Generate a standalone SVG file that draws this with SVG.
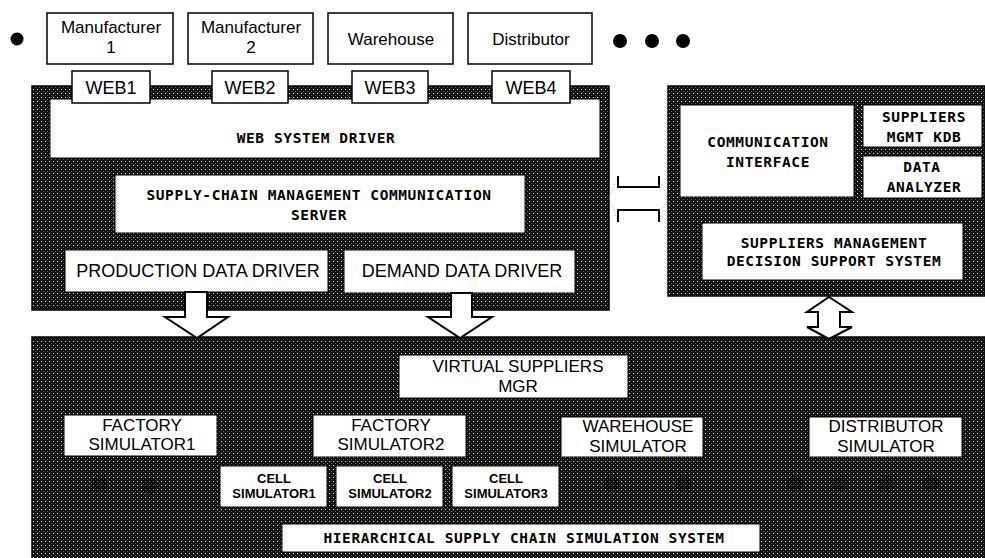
<svg xmlns="http://www.w3.org/2000/svg" width="985" height="558" viewBox="0 0 985 558">
  <defs>
    <!-- printed halftone screen used for the dark system panels -->
    <pattern id="halftone" width="4" height="4" patternUnits="userSpaceOnUse">
      <rect width="4" height="4" fill="#101010"/>
      <rect x="1" y="1" width="1" height="1" fill="#f0f0f0"/>
      <rect x="3" y="3" width="1" height="1" fill="#606060"/>
    </pattern>
    <style>
      .panel { fill: url(#halftone); stroke: #000; stroke-width: 1.5; }
      .box { fill: #fff; stroke: #000; stroke-width: 1.5; }
      .inner { fill: #fff; stroke: #000; stroke-width: 1; }
      .sans { font-family: "Liberation Sans", Arial, sans-serif; fill: #000; text-anchor: middle; }
      .t17 { font-size: 17px; }
      .t18 { font-size: 18px; }
      .cell { font-family: "Liberation Sans", Arial, sans-serif; font-weight: bold; font-size: 13px; fill: #000; text-anchor: middle; }
      .mono { font-family: "DejaVu Sans Mono", "Liberation Mono", monospace; font-weight: bold; font-size: 14.5px; letter-spacing: 0.6px; fill: #000; text-anchor: middle; }
      .dot { fill: #000; }
      .hidden-dot { fill: #000; opacity: 0.35; }
      .hollow { fill: #fff; stroke: #000; stroke-width: 2; stroke-linejoin: miter; }
      .bracket { fill: none; stroke: #000; stroke-width: 2; }
      .faint { fill: none; stroke: #b0b0b0; stroke-width: 1; stroke-dasharray: 1 2; }
    </style>
  </defs>

  <rect width="985" height="558" fill="#fff"/>

  <!-- ellipsis markers around the partner row -->
  <g id="partner-ellipsis">
    <circle class="dot" cx="17" cy="39" r="6.5"/>
    <circle class="dot" cx="620" cy="41" r="7"/>
    <circle class="dot" cx="652" cy="41" r="7"/>
    <circle class="dot" cx="683" cy="41" r="7"/>
  </g>

  <!-- supply-chain partners -->
  <g id="manufacturer-1">
    <rect class="box" x="47" y="13" width="126" height="51"/>
    <text class="sans t17" x="111" y="33">Manufacturer</text>
    <text class="sans t17" x="111" y="53">1</text>
  </g>
  <g id="manufacturer-2">
    <rect class="box" x="188" y="13" width="125" height="51"/>
    <text class="sans t17" x="251" y="33">Manufacturer</text>
    <text class="sans t17" x="251" y="53">2</text>
  </g>
  <g id="warehouse">
    <rect class="box" x="328" y="13" width="125" height="51"/>
    <text class="sans t17" x="391" y="45">Warehouse</text>
  </g>
  <g id="distributor">
    <rect class="box" x="468" y="13" width="124" height="51"/>
    <text class="sans t17" x="531" y="45">Distributor</text>
  </g>

  <!-- web / communication server panel -->
  <g id="web-panel">
    <rect class="panel" x="32" y="86" width="577" height="224"/>
  </g>
  <g id="web-system-driver">
    <rect class="inner" x="50" y="99" width="550" height="59"/>
    <text class="mono" x="316" y="143">WEB SYSTEM DRIVER</text>
  </g>
  <g id="scm-communication-server">
    <rect class="inner" x="115" y="175" width="410" height="58"/>
    <text class="mono" x="319" y="200">SUPPLY-CHAIN MANAGEMENT COMMUNICATION</text>
    <text class="mono" x="319" y="220">SERVER</text>
  </g>
  <g id="production-data-driver">
    <rect class="inner" x="65" y="250" width="263" height="42"/>
    <text class="sans t18" x="198" y="277">PRODUCTION  DATA DRIVER</text>
  </g>
  <g id="demand-data-driver">
    <rect class="inner" x="344" y="250" width="231" height="43"/>
    <text class="sans t18" x="462" y="277">DEMAND DATA DRIVER</text>
  </g>
  <g id="web1">
    <rect class="box" x="72" y="71" width="78" height="32"/>
    <text class="sans t18" x="111" y="94">WEB1</text>
  </g>
  <g id="web2">
    <rect class="box" x="212" y="71" width="76" height="32"/>
    <text class="sans t18" x="250" y="94">WEB2</text>
  </g>
  <g id="web3">
    <rect class="box" x="352" y="71" width="76" height="32"/>
    <text class="sans t18" x="390" y="94">WEB3</text>
  </g>
  <g id="web4">
    <rect class="box" x="492" y="71" width="78" height="32"/>
    <text class="sans t18" x="531" y="94">WEB4</text>
  </g>

  <!-- suppliers management panel -->
  <g id="suppliers-panel">
    <rect class="panel" x="668" y="86" width="320" height="210"/>
  </g>
  <g id="communication-interface">
    <rect class="inner" x="680" y="105" width="174" height="92"/>
    <text class="mono" x="768" y="147">COMMUNICATION</text>
    <text class="mono" x="768" y="167">INTERFACE</text>
  </g>
  <g id="suppliers-mgmt-kdb">
    <rect class="inner" x="863" y="105" width="119" height="42"/>
    <text class="mono" x="924" y="122">SUPPLIERS</text>
    <text class="mono" x="924" y="142">MGMT KDB</text>
  </g>
  <g id="data-analyzer">
    <rect class="inner" x="863" y="156" width="119" height="42"/>
    <text class="mono" x="922" y="172">DATA</text>
    <text class="mono" x="924" y="192">ANALYZER</text>
  </g>
  <g id="suppliers-dss">
    <rect class="inner" x="702" y="223" width="261" height="57"/>
    <text class="mono" x="834" y="248">SUPPLIERS MANAGEMENT</text>
    <text class="mono" x="834" y="266">DECISION SUPPORT SYSTEM</text>
  </g>

  <!-- hierarchical simulation panel -->
  <g id="simulation-panel">
    <rect class="panel" x="32" y="337" width="956" height="225"/>
    <circle class="hidden-dot" cx="100" cy="485" r="8"/>
    <circle class="hidden-dot" cx="150" cy="486" r="8"/>
    <circle class="hidden-dot" cx="612" cy="484" r="8"/>
    <circle class="hidden-dot" cx="684" cy="484" r="8"/>
    <circle class="hidden-dot" cx="795" cy="484" r="8"/>
    <circle class="hidden-dot" cx="840" cy="484" r="8"/>
    <circle class="hidden-dot" cx="886" cy="484" r="8"/>
    <circle class="hidden-dot" cx="931" cy="484" r="8"/>
  </g>
  <g id="virtual-suppliers-mgr">
    <rect class="inner" x="399" y="355" width="229" height="43"/>
    <text class="sans t17" x="518" y="372">VIRTUAL SUPPLIERS</text>
    <text class="sans t17" x="518" y="392">MGR</text>
  </g>
  <g id="factory-simulator-1">
    <rect class="inner" x="64" y="415" width="153" height="41"/>
    <text class="sans t17" x="142" y="431">FACTORY</text>
    <text class="sans t17" x="142" y="450">SIMULATOR1</text>
  </g>
  <g id="factory-simulator-2">
    <rect class="inner" x="313" y="415" width="153" height="42"/>
    <text class="sans t17" x="391" y="431">FACTORY</text>
    <text class="sans t17" x="391" y="450">SIMULATOR2</text>
  </g>
  <g id="warehouse-simulator">
    <rect class="inner" x="561" y="417" width="142" height="40"/>
    <text class="sans t17" x="638" y="432">WAREHOUSE</text>
    <text class="sans t17" x="638" y="452">SIMULATOR</text>
  </g>
  <g id="distributor-simulator">
    <rect class="inner" x="809" y="417" width="153" height="40"/>
    <text class="sans t17" x="886" y="432">DISTRIBUTOR</text>
    <text class="sans t17" x="886" y="452">SIMULATOR</text>
  </g>
  <g id="cell-simulator-1">
    <rect class="inner" x="220" y="466" width="107" height="41"/>
    <text class="cell" x="274" y="483">CELL</text>
    <text class="cell" x="274" y="498">SIMULATOR1</text>
  </g>
  <g id="cell-simulator-2">
    <rect class="inner" x="336" y="466" width="107" height="41"/>
    <text class="cell" x="390" y="483">CELL</text>
    <text class="cell" x="390" y="498">SIMULATOR2</text>
  </g>
  <g id="cell-simulator-3">
    <rect class="inner" x="452" y="466" width="107" height="41"/>
    <text class="cell" x="506" y="483">CELL</text>
    <text class="cell" x="506" y="498">SIMULATOR3</text>
  </g>
  <g id="hierarchical-system">
    <rect class="inner" x="282" y="524" width="478" height="28"/>
    <text class="mono" x="524" y="543">HIERARCHICAL SUPPLY CHAIN SIMULATION SYSTEM</text>
  </g>

  <!-- data flows between the subsystems -->
  <g id="connectors">
    <polygon class="hollow" points="185,292 185,317 165,317 197,338 228,317 207,317 207,292"/>
    <polygon class="hollow" points="451,293 451,317 428,317 460,338 492,317 472,317 472,293"/>
    <polygon class="hollow" points="829,297 852,312 840,312 840,327 852,327 829,339 807,327 818,327 818,312 807,312"/>
    <polyline class="faint" points="618,176 609,198 618,222"/>
    <polyline class="faint" points="659,176 667,198 659,222"/>
    <polyline class="bracket" points="618,176 618,187 659,187 659,176"/>
    <polyline class="bracket" points="618,222 618,210 659,210 659,222"/>
  </g>
</svg>
